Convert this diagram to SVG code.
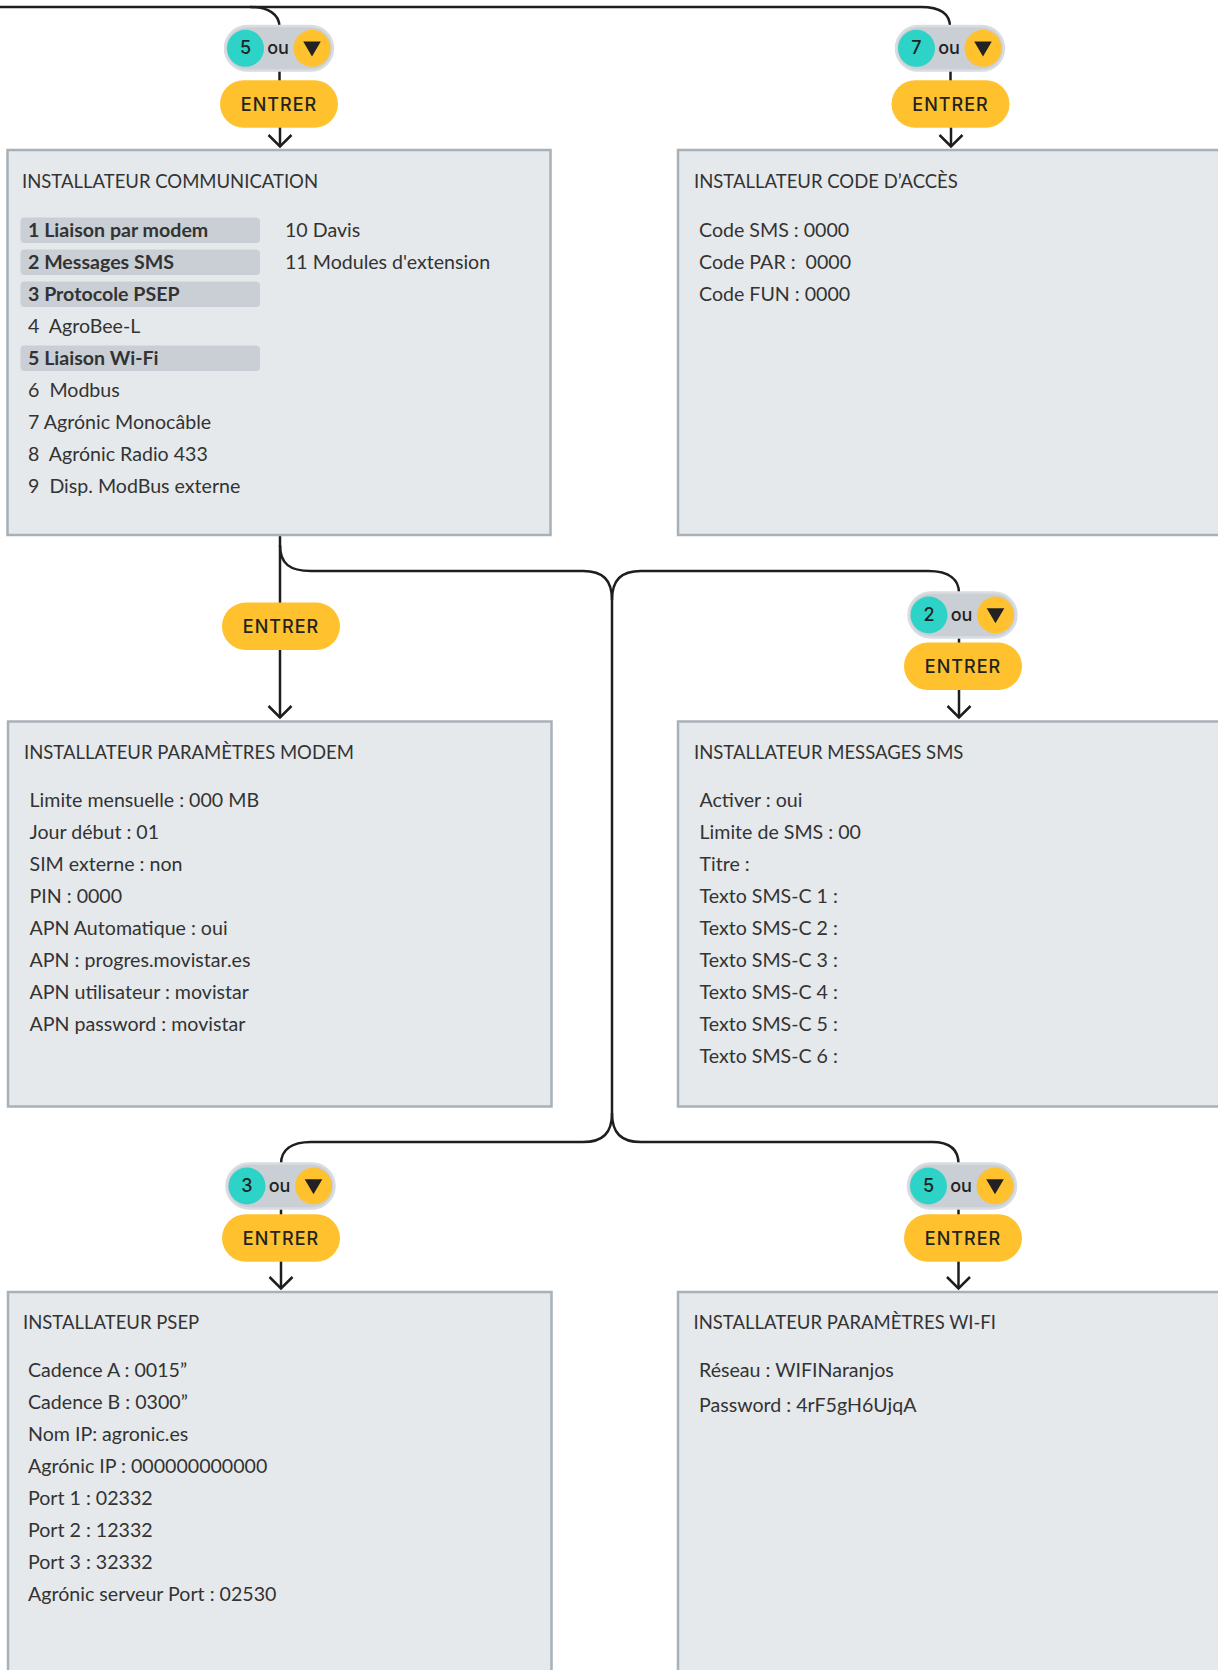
<svg xmlns="http://www.w3.org/2000/svg" width="1218" height="1670" viewBox="0 0 1218 1670">
<defs>
<style>
.box{fill:#e5e9ec;stroke:#a8b0b8;stroke-width:2.5}
.hl{fill:#c9cfd5}
.t{font-family:Lato,"Liberation Sans",sans-serif;font-size:18.5px;fill:#333}
.b{font-family:Lato,"Liberation Sans",sans-serif;font-size:19.6px;fill:#333}
.bb{font-weight:bold}
.pill{fill:#c9cfd5;stroke:#d9dde1;stroke-width:2.5}
.teal{fill:#2dd3c7}
.yel{fill:#ffc22e}
.tri{fill:#222}
.bt{font-family:Inter,"Noto Sans",sans-serif;font-size:18px;font-weight:500;fill:#222;text-anchor:middle}
.en{letter-spacing:1px}
.con{fill:none;stroke:#1e1e1e;stroke-width:2.5}
</style>
<marker id="ah" markerUnits="userSpaceOnUse" viewBox="-14 -14 16 28" refX="0" refY="0" markerWidth="16" markerHeight="28" orient="auto" overflow="visible">
<path d="M-11.5,-11.5 L0,0 L-11.5,11.5" fill="none" stroke="#1e1e1e" stroke-width="2.5"/>
</marker>
</defs>
<rect width="1218" height="1670" fill="#fff"/>

<g id="connectors">
<path class="con" d="M0,7 H921 C941,7 950,14 950,27"/>
<path class="con" d="M250,7 C268,7 279.5,14 279.5,27"/>
<path class="con" d="M279.5,70 V81"/>
<path class="con" d="M950.5,70 V81"/>
<path class="con" d="M280,127 V146.5" marker-end="url(#ah)"/>
<path class="con" d="M951,127 V146.5" marker-end="url(#ah)"/>
<path class="con" d="M280,535 V717.5" marker-end="url(#ah)"/>
<path class="con" d="M280,545 C280,564 290,571 311,571 H583 C603,571 612,580 612,600 V1113 C612,1133 603,1142 583,1142 H311 C291,1142 281,1150 281,1164"/>
<path class="con" d="M612,600 C612,580 621,571 641,571 H928 C950,571 959,580 959,593"/>
<path class="con" d="M612,1113 C612,1133 621,1142 641,1142 H932 C950,1142 958.5,1150 958.5,1164"/>
<path class="con" d="M959,636 V644"/>
<path class="con" d="M959,689 V717.5" marker-end="url(#ah)"/>
<path class="con" d="M281,1208 V1215"/>
<path class="con" d="M281,1261 V1288.5" marker-end="url(#ah)"/>
<path class="con" d="M958.5,1208 V1215"/>
<path class="con" d="M958.5,1261 V1288.5" marker-end="url(#ah)"/>
</g>

<g id="badge-5-top" transform="translate(279,48.3)">
<rect class="pill" x="-54" y="-22.3" width="108" height="44.6" rx="22.3"/>
<circle class="teal" cx="-33.5" cy="0" r="18.5"/>
<text class="bt" x="-33.5" y="6">5</text>
<text class="bt" x="-1" y="6">ou</text>
<circle class="yel" cx="33" cy="0" r="18.5"/>
<path class="tri" d="M24.2,-6.7 H41.8 L33,8.3 Z"/>
</g>
<g id="entrer-1" transform="translate(279,104)">
<rect class="yel" x="-59" y="-23.7" width="118" height="47.4" rx="23.7"/>
<text class="bt en" x="0" y="7">ENTRER</text>
</g>

<g id="badge-7-top" transform="translate(950,48.3)">
<rect class="pill" x="-54" y="-22.3" width="108" height="44.6" rx="22.3"/>
<circle class="teal" cx="-33.5" cy="0" r="18.5"/>
<text class="bt" x="-33.5" y="6">7</text>
<text class="bt" x="-1" y="6">ou</text>
<circle class="yel" cx="33" cy="0" r="18.5"/>
<path class="tri" d="M24.2,-6.7 H41.8 L33,8.3 Z"/>
</g>
<g id="entrer-2" transform="translate(950.5,104)">
<rect class="yel" x="-59" y="-23.7" width="118" height="47.4" rx="23.7"/>
<text class="bt en" x="0" y="7">ENTRER</text>
</g>

<g id="box-communication">
<rect class="box" x="7.5" y="150" width="543" height="385"/>
<text class="t" x="22" y="188">INSTALLATEUR COMMUNICATION</text>
<rect class="hl" x="20.5" y="217.5" width="239.5" height="25.5" rx="4"/>
<rect class="hl" x="20.5" y="249.5" width="239.5" height="25.5" rx="4"/>
<rect class="hl" x="20.5" y="281.5" width="239.5" height="25.5" rx="4"/>
<rect class="hl" x="20.5" y="345.5" width="239.5" height="25.5" rx="4"/>
<text class="b bb" x="28" y="237">1 Liaison par modem</text>
<text class="b bb" x="28" y="269">2 Messages SMS</text>
<text class="b bb" x="28" y="301">3 Protocole PSEP</text>
<text class="b" x="28" y="333" xml:space="preserve">4  AgroBee-L</text>
<text class="b bb" x="28" y="365">5 Liaison Wi-Fi</text>
<text class="b" x="28" y="397" xml:space="preserve">6  Modbus</text>
<text class="b" x="28" y="429">7 Agrónic Monocâble</text>
<text class="b" x="28" y="461" xml:space="preserve">8  Agrónic Radio 433</text>
<text class="b" x="28" y="493" xml:space="preserve">9  Disp. ModBus externe</text>
<text class="b" x="285" y="237">10 Davis</text>
<text class="b" x="285" y="269">11 Modules d'extension</text>
</g>

<g id="box-code-acces">
<rect class="box" x="678" y="150" width="544" height="385"/>
<text class="t" x="694" y="188">INSTALLATEUR CODE D’ACCÈS</text>
<text class="b" x="699" y="237">Code SMS : 0000</text>
<text class="b" x="699" y="269" xml:space="preserve">Code PAR :  0000</text>
<text class="b" x="699" y="301">Code FUN : 0000</text>
</g>

<g id="entrer-3" transform="translate(281,626.3)">
<rect class="yel" x="-59" y="-23.7" width="118" height="47.4" rx="23.7"/>
<text class="bt en" x="0" y="7">ENTRER</text>
</g>

<g id="badge-2" transform="translate(962.5,615)">
<rect class="pill" x="-54" y="-22.5" width="108" height="45" rx="22.5"/>
<circle class="teal" cx="-33.5" cy="0" r="18.5"/>
<text class="bt" x="-33.5" y="6">2</text>
<text class="bt" x="-1" y="6">ou</text>
<circle class="yel" cx="33" cy="0" r="18.5"/>
<path class="tri" d="M24.2,-6.7 H41.8 L33,8.3 Z"/>
</g>
<g id="entrer-4" transform="translate(963,666.3)">
<rect class="yel" x="-59" y="-23.7" width="118" height="47.4" rx="23.7"/>
<text class="bt en" x="0" y="7">ENTRER</text>
</g>

<g id="box-modem">
<rect class="box" x="8" y="721.5" width="543.5" height="385"/>
<text class="t" x="24" y="758.5">INSTALLATEUR PARAMÈTRES MODEM</text>
<text class="b" x="29.5" y="807">Limite mensuelle : 000 MB</text>
<text class="b" x="29.5" y="839">Jour début : 01</text>
<text class="b" x="29.5" y="871">SIM externe : non</text>
<text class="b" x="29.5" y="903">PIN : 0000</text>
<text class="b" x="29.5" y="935">APN Automatique : oui</text>
<text class="b" x="29.5" y="967">APN : progres.movistar.es</text>
<text class="b" x="29.5" y="999">APN utilisateur : movistar</text>
<text class="b" x="29.5" y="1031">APN password : movistar</text>
</g>

<g id="box-sms">
<rect class="box" x="678" y="721.5" width="544" height="385"/>
<text class="t" x="694" y="758.5">INSTALLATEUR MESSAGES SMS</text>
<text class="b" x="699.5" y="807">Activer : oui</text>
<text class="b" x="699.5" y="839">Limite de SMS : 00</text>
<text class="b" x="699.5" y="871">Titre :</text>
<text class="b" x="699.5" y="903">Texto SMS-C 1 :</text>
<text class="b" x="699.5" y="935">Texto SMS-C 2 :</text>
<text class="b" x="699.5" y="967">Texto SMS-C 3 :</text>
<text class="b" x="699.5" y="999">Texto SMS-C 4 :</text>
<text class="b" x="699.5" y="1031">Texto SMS-C 5 :</text>
<text class="b" x="699.5" y="1063">Texto SMS-C 6 :</text>
</g>

<g id="badge-3" transform="translate(280.5,1186)">
<rect class="pill" x="-54" y="-22.5" width="108" height="45" rx="22.5"/>
<circle class="teal" cx="-33.5" cy="0" r="18.5"/>
<text class="bt" x="-33.5" y="6">3</text>
<text class="bt" x="-1" y="6">ou</text>
<circle class="yel" cx="33" cy="0" r="18.5"/>
<path class="tri" d="M24.2,-6.7 H41.8 L33,8.3 Z"/>
</g>
<g id="entrer-5" transform="translate(281,1238)">
<rect class="yel" x="-59" y="-23.7" width="118" height="47.4" rx="23.7"/>
<text class="bt en" x="0" y="7">ENTRER</text>
</g>

<g id="badge-5" transform="translate(962,1186)">
<rect class="pill" x="-54" y="-22.5" width="108" height="45" rx="22.5"/>
<circle class="teal" cx="-33.5" cy="0" r="18.5"/>
<text class="bt" x="-33.5" y="6">5</text>
<text class="bt" x="-1" y="6">ou</text>
<circle class="yel" cx="33" cy="0" r="18.5"/>
<path class="tri" d="M24.2,-6.7 H41.8 L33,8.3 Z"/>
</g>
<g id="entrer-6" transform="translate(963,1238)">
<rect class="yel" x="-59" y="-23.7" width="118" height="47.4" rx="23.7"/>
<text class="bt en" x="0" y="7">ENTRER</text>
</g>

<g id="box-psep">
<rect class="box" x="8" y="1292" width="543.5" height="400"/>
<text class="t" x="23" y="1329">INSTALLATEUR PSEP</text>
<text class="b" x="28" y="1377">Cadence A : 0015”</text>
<text class="b" x="28" y="1409">Cadence B : 0300”</text>
<text class="b" x="28" y="1441">Nom IP: agronic.es</text>
<text class="b" x="28" y="1473">Agrónic IP : 000000000000</text>
<text class="b" x="28" y="1505">Port 1 : 02332</text>
<text class="b" x="28" y="1537">Port 2 : 12332</text>
<text class="b" x="28" y="1569">Port 3 : 32332</text>
<text class="b" x="28" y="1601">Agrónic serveur Port : 02530</text>
</g>

<g id="box-wifi">
<rect class="box" x="678" y="1292" width="544" height="400"/>
<text class="t" x="693.5" y="1329">INSTALLATEUR PARAMÈTRES WI-FI</text>
<text class="b" x="699" y="1377">Réseau : WIFINaranjos</text>
<text class="b" x="699" y="1411.5">Password : 4rF5gH6UjqA</text>
</g>
</svg>
